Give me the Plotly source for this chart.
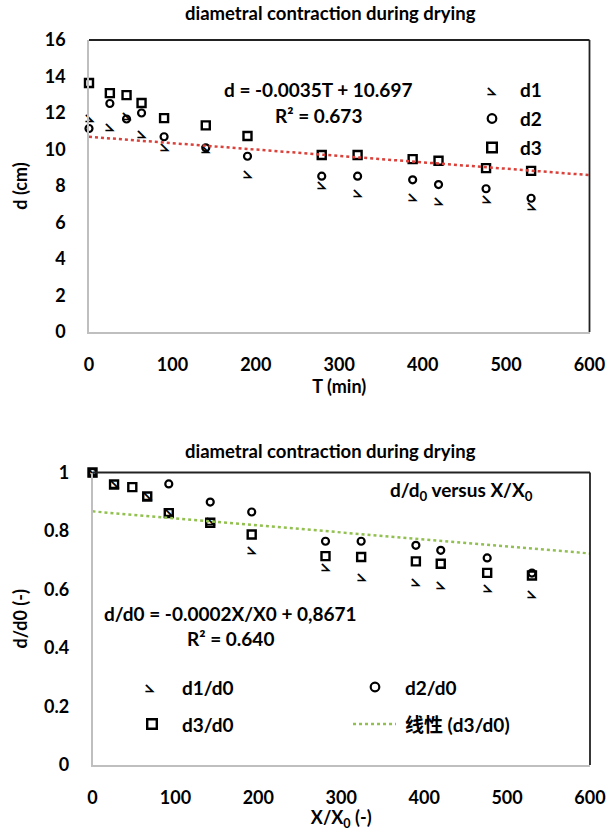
import plotly.graph_objects as go

# ---------------- data ----------------
T_min = [0, 25, 45, 63, 90, 140, 190, 279, 322, 388, 419, 476, 530]
d1_cm = [11.75, 11.21, 11.85, 10.85, 10.16, 10.03, 8.67, 8.08, 7.63, 7.39, 7.17, 7.30, 6.88]
d2_cm = [11.15, 12.52, 11.67, 12.00, 10.70, 10.09, 9.63, 8.54, 8.54, 8.34, 8.08, 7.85, 7.33]
d3_cm = [13.64, 13.09, 12.98, 12.55, 11.72, 11.32, 10.74, 9.70, 9.70, 9.47, 9.38, 8.98, 8.83]
trend1_slope = -0.0035
trend1_intercept = 10.697

X_ratio = [0, 26, 48, 66, 92, 142, 192, 281, 324, 390, 420, 476, 530]
d1_ratio = [1.0, 0.96, None, 0.918, 0.865, 0.835, 0.735, 0.677, 0.643, 0.626, 0.614, 0.605, 0.586]
d2_ratio = [1.0, None, None, None, 0.961, 0.899, 0.865, 0.765, 0.765, 0.751, 0.734, 0.708, 0.656]
d3_ratio = [1.0, 0.959, 0.950, 0.918, 0.861, 0.828, 0.788, 0.714, 0.711, 0.696, 0.688, 0.657, 0.648]
trend2_slope = -0.00024
trend2_intercept = 0.8671

x_range = [0, 600]
x_ticks = [0, 100, 200, 300, 400, 500, 600]
y1_ticks = [0, 2, 4, 6, 8, 10, 12, 14, 16]
y2_ticks = [0, 0.2, 0.4, 0.6, 0.8, 1]

# ---------------- styling ----------------
W, H = 608, 831
FONT = "Lato, 'Noto Sans CJK SC', sans-serif"
FS = 18
BLACK = "#000000"
GRAY = "#bfbfbf"
RED = "#d9413a"
GREEN = "#92c050"
D1_GLYPH = "\u29a3"  # reversed-angle glyph used as the d1 marker
GLYPH_FONT = dict(family="DejaVu Sans, 'Noto Sans', sans-serif", size=16, color=BLACK, weight="bold")


def px(x):
    return x / W


def py(y):
    return 1 - y / H


fig = go.Figure()

# top chart traces
fig.add_trace(go.Scatter(x=T_min, y=d1_cm, mode="text", text=[D1_GLYPH] * len(T_min),
                         textfont=GLYPH_FONT, textposition="middle center",
                         cliponaxis=False, showlegend=False, xaxis="x", yaxis="y", name="d1"))
fig.add_trace(go.Scatter(x=T_min, y=d2_cm, mode="markers", cliponaxis=False, showlegend=False,
                         marker=dict(symbol="circle-open", size=7, color=BLACK, line=dict(width=2.2, color=BLACK)),
                         xaxis="x", yaxis="y", name="d2"))
fig.add_trace(go.Scatter(x=T_min, y=d3_cm, mode="markers", cliponaxis=False, showlegend=False,
                         marker=dict(symbol="square-open", size=8, color=BLACK, line=dict(width=2.4, color=BLACK)),
                         xaxis="x", yaxis="y", name="d3"))
fig.add_trace(go.Scatter(x=x_range, y=[trend1_slope * v + trend1_intercept for v in x_range],
                         mode="lines", line=dict(color=RED, width=2.5, dash="dot"), showlegend=False,
                         xaxis="x", yaxis="y", name="trend"))

# bottom chart traces
fig.add_trace(go.Scatter(x=X_ratio, y=d1_ratio, mode="text", text=[D1_GLYPH] * len(X_ratio),
                         textfont=GLYPH_FONT, textposition="middle center",
                         cliponaxis=False, showlegend=False, xaxis="x2", yaxis="y2", name="d1/d0"))
fig.add_trace(go.Scatter(x=X_ratio, y=d2_ratio, mode="markers", cliponaxis=False, showlegend=False,
                         marker=dict(symbol="circle-open", size=7, color=BLACK, line=dict(width=2.2, color=BLACK)),
                         xaxis="x2", yaxis="y2", name="d2/d0"))
fig.add_trace(go.Scatter(x=X_ratio, y=d3_ratio, mode="markers", cliponaxis=False, showlegend=False,
                         marker=dict(symbol="square-open", size=8, color=BLACK, line=dict(width=2.4, color=BLACK)),
                         xaxis="x2", yaxis="y2", name="d3/d0"))
fig.add_trace(go.Scatter(x=x_range, y=[trend2_slope * v + trend2_intercept for v in x_range],
                         mode="lines", line=dict(color=GREEN, width=2.5, dash="dot"), showlegend=False,
                         xaxis="x2", yaxis="y2", name="线性 (d3/d0)"))

tickfont = dict(family=FONT, size=FS, color=BLACK, weight="bold")
titlefont = dict(family=FONT, size=FS, color=BLACK, weight="bold")

common_x = dict(range=x_range, tickvals=x_ticks, showgrid=False, zeroline=False, showline=True,
                linecolor=GRAY, linewidth=1.5, ticks="", tickfont=tickfont, ticklabelstandoff=16,
                automargin=False, fixedrange=True)
common_y = dict(showgrid=False, zeroline=False, showline=True, linecolor=GRAY, linewidth=1.5,
                ticks="", tickfont=tickfont, ticklabelstandoff=18, automargin=False)

fig.update_layout(
    width=W, height=H,
    margin=dict(l=0, r=0, t=0, b=0),
    paper_bgcolor="white", plot_bgcolor="white",
    font=dict(family=FONT, color=BLACK),
    showlegend=False,
    xaxis=dict(domain=[px(89), px(589.5)], anchor="y",
               title=dict(text="T (min)", font=titlefont, standoff=2), **common_x),
    yaxis=dict(domain=[py(332), py(40)], anchor="x", range=[0, 16], tickvals=y1_ticks,
               title=dict(text="d (cm)", font=titlefont, standoff=12), **common_y),
    xaxis2=dict(domain=[px(92.5), px(590)], anchor="y2",
                title=dict(text="X/X<sub>0</sub> (-)", font=titlefont, standoff=2), **common_x),
    yaxis2=dict(domain=[py(765), py(472.5)], anchor="x2", range=[0, 1], tickvals=y2_ticks,
                title=dict(text="d/d0 (-)", font=titlefont, standoff=12), **common_y),
)

shapes = []
# dark frame on top and right of each plot area
for xr, yr in (("x", "y"), ("x2", "y2")):
    shapes.append(dict(type="line", xref=f"{xr} domain", yref=f"{yr} domain", x0=0, x1=1, y0=1, y1=1,
                       line=dict(color="#222222", width=1.8)))
    shapes.append(dict(type="line", xref=f"{xr} domain", yref=f"{yr} domain", x0=1, x1=1, y0=0, y1=1,
                       line=dict(color="#222222", width=1.8)))


def circle_icon(cx, cy, r=4.3):
    return dict(type="circle", xref="paper", yref="paper", xsizemode="pixel", ysizemode="pixel",
                xanchor=px(cx), yanchor=py(cy), x0=-r, x1=r, y0=-r, y1=r,
                line=dict(color=BLACK, width=2.2))


def square_icon(cx, cy, r=4.8):
    return dict(type="rect", xref="paper", yref="paper", xsizemode="pixel", ysizemode="pixel",
                xanchor=px(cx), yanchor=py(cy), x0=-r, x1=r, y0=-r, y1=r,
                line=dict(color=BLACK, width=2.4))


# top legend icons
shapes.append(circle_icon(492, 118.5))
shapes.append(square_icon(492, 147.5))
# bottom legend icons
shapes.append(circle_icon(375, 687))
shapes.append(square_icon(152, 724))
shapes.append(dict(type="line", xref="paper", yref="paper", x0=px(353), x1=px(396), y0=py(724), y1=py(724),
                   line=dict(color=GREEN, width=2.5, dash="dot")))
fig.update_layout(shapes=shapes)


def ann(text, x, y, size=FS, xanchor="center", font=None):
    return dict(text=text, x=px(x), y=py(y), xref="paper", yref="paper", showarrow=False,
                xanchor=xanchor, yanchor="middle",
                font=font or dict(family=FONT, size=size, color=BLACK, weight="bold"))


annotations = [
    ann("diametral contraction during drying", 330, 13, size=18.5),
    ann("diametral contraction during drying", 330, 451, size=18.5),
    ann("d = -0.0035T + 10.697", 318, 90, size=19),
    ann("R² = 0.673", 318, 115, size=19),
    ann(D1_GLYPH, 492, 89, font=GLYPH_FONT),
    ann("d1", 518, 89.5, xanchor="left", size=19),
    ann("d2", 518, 118.5, xanchor="left", size=19),
    ann("d3", 518, 147.5, xanchor="left", size=19),
    ann("d/d<sub>0</sub> versus X/X<sub>0</sub>", 461, 491, size=19),
    ann("d/d0 = -0.0002X/X0 + 0,8671", 230, 613, size=19),
    ann("R² = 0.640", 230, 638, size=19),
    ann(D1_GLYPH, 150, 686, font=GLYPH_FONT),
    ann("d1/d0", 180, 687, xanchor="left", size=19),
    ann("d2/d0", 403, 687, xanchor="left", size=19),
    ann("d3/d0", 180, 724, xanchor="left", size=19),
    ann("线性 (d3/d0)", 403, 724, xanchor="left", size=19),
]
fig.update_layout(annotations=annotations)

# remove the default page margin so the figure sits at the window's top-left corner
fig.write_html("out.html", config={"displayModeBar": False},
               post_script="document.body.style.margin='0px';")
